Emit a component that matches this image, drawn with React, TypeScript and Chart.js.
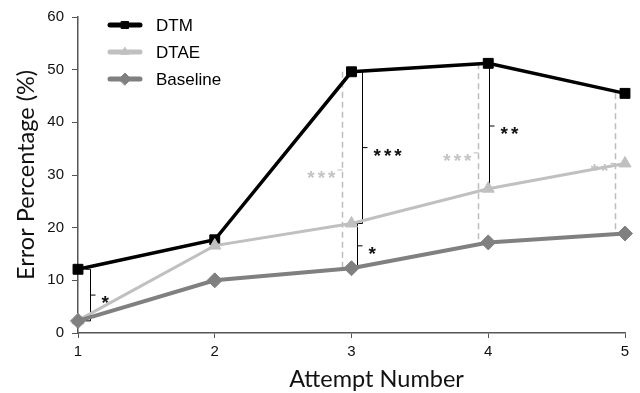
import React, { useEffect, useRef } from 'react';
import { Chart, registerables } from 'chart.js';
import { drawPoint } from 'chart.js/helpers';

Chart.register(...registerables);

// ---- data ----
const attempts = ['1', '2', '3', '4', '5'];
const seriesNames = ['DTM', 'DTAE', 'Baseline'];
const dtm = [12.1, 17.7, 49.6, 51.2, 45.5];
const dtae = [2.4, 16.6, 20.8, 27.4, 32.2];
const baseline = [2.3, 10.0, 12.3, 17.2, 18.9];
const yTickValues = [0, 10, 20, 30, 40, 50, 60];
const xTitle = 'Attempt Number';
const yTitle = 'Error Percentage (%)';

// significance annotations (gray dashed: DTM vs Baseline)
const grayAt = [2, 3, 4];
const grayLabels = ['***', '***', '**'];
// black brackets: at attempt index, between series index from/to
const bracketAt = [0, 2, 2, 3];
const bracketFrom = [0, 0, 1, 0];
const bracketTo = [2, 1, 2, 1];
const bracketLabels = ['*', '***', '*', '**'];

// ---- styling (not data) ----
const colors = ['#000000', '#c0c0c0', '#808080'];
const lineWidths = [3.5, 3, 4];
const pointStyles = ['rect', 'triangle', 'rectRot'];
const pointRadii = [7, 7, 7.5];
const legendRadii = [5, 4.5, 6];
const bracketOffsets = [12, 10, 5, 1];
const grayOffset = -10;
const starFont = 'bold 19px "Liberation Sans", Arial, sans-serif';
const titleFont = '23.5px Lato, "Open Sans", sans-serif';

const annotationPlugin = {
  id: 'sigAnnotations',
  beforeDatasetsDraw(chart: any) {
    const ctx = chart.ctx;
    const xs = chart.scales.x;
    const ys = chart.scales.y;
    const series = [dtm, dtae, baseline];
    ctx.save();
    ctx.font = starFont;
    (ctx as any).letterSpacing = '3px';
    grayAt.forEach((idx, i) => {
      const x = Math.round(xs.getPixelForValue(idx) + grayOffset) + 0.5;
      const yTop = ys.getPixelForValue(dtm[idx]);
      const yBot = ys.getPixelForValue(baseline[idx]);
      const yMid = (yTop + yBot) / 2;
      ctx.strokeStyle = '#bdbdbd';
      ctx.lineWidth = 1.5;
      ctx.setLineDash([6, 4]);
      ctx.beginPath();
      ctx.moveTo(x, yTop);
      ctx.lineTo(x, yBot);
      ctx.stroke();
      ctx.setLineDash([]);
      ctx.lineWidth = 1;
      ctx.beginPath();
      ctx.moveTo(x, yMid);
      ctx.lineTo(x - 5, yMid);
      ctx.stroke();
      ctx.fillStyle = '#c4c4c4';
      ctx.textAlign = 'right';
      ctx.textBaseline = 'alphabetic';
      ctx.fillText(grayLabels[i], x - 4, yMid + 14);
    });
    bracketAt.forEach((idx, i) => {
      const x = Math.round(xs.getPixelForValue(idx) + bracketOffsets[i]) + 0.5;
      const yTop = ys.getPixelForValue(series[bracketFrom[i]][idx]);
      const yBot = ys.getPixelForValue(series[bracketTo[i]][idx]);
      const yMid = (yTop + yBot) / 2;
      ctx.strokeStyle = '#000';
      ctx.lineWidth = 1;
      ctx.beginPath();
      ctx.moveTo(x - 5, yTop);
      ctx.lineTo(x, yTop);
      ctx.lineTo(x, yBot);
      ctx.lineTo(x - 5, yBot);
      ctx.moveTo(x, yMid);
      ctx.lineTo(x + 5, yMid);
      ctx.stroke();
      ctx.fillStyle = '#111';
      ctx.textAlign = 'left';
      ctx.textBaseline = 'alphabetic';
      ctx.fillText(bracketLabels[i], x + 11, yMid + 14);
    });
    ctx.restore();
  },
  afterDraw(chart: any) {
    const ctx = chart.ctx;
    const rows = [25, 52, 79];
    ctx.save();
    chart.data.datasets.forEach((ds: any, i: number) => {
      const y = rows[i];
      ctx.strokeStyle = ds.borderColor;
      ctx.lineWidth = 5;
      ctx.lineCap = 'round';
      ctx.beginPath();
      ctx.moveTo(110, y);
      ctx.lineTo(140, y);
      ctx.stroke();
      ctx.fillStyle = ds.pointBackgroundColor;
      ctx.strokeStyle = ds.pointBorderColor;
      ctx.lineWidth = 1;
      drawPoint(ctx, { pointStyle: ds.pointStyle, radius: legendRadii[i], rotation: 0, borderWidth: 1 }, 125, y);
      ctx.fillStyle = '#000';
      ctx.font = '17px "Liberation Sans", Arial, sans-serif';
      ctx.textAlign = 'left';
      ctx.textBaseline = 'middle';
      ctx.fillText(ds.label, 156, y + 1);
    });
    // axis title for x (drawn slightly right of centre as in the source figure)
    ctx.fillStyle = '#111';
    ctx.font = titleFont;
    ctx.textAlign = 'center';
    ctx.textBaseline = 'middle';
    const xa = chart.scales.x;
    ctx.fillText(xTitle, (xa.left + xa.right) / 2 + 25, 379);
    ctx.restore();
  },
};

export default function App() {
  const ref = useRef<HTMLCanvasElement | null>(null);
  useEffect(() => {
    if (!ref.current) return;
    const values = [dtm, dtae, baseline];
    const chart = new Chart(ref.current, {
      type: 'line',
      data: {
        labels: attempts,
        datasets: seriesNames.map((name, i) => ({
          label: name,
          data: values[i],
          borderColor: colors[i],
          backgroundColor: colors[i],
          pointBackgroundColor: colors[i],
          pointBorderColor: colors[i],
          borderWidth: lineWidths[i],
          pointStyle: pointStyles[i],
          pointRadius: pointRadii[i],
          pointBorderWidth: 1,
          tension: 0,
          clip: false,
          order: 3 - i,
        })),
      },
      options: {
        animation: false,
        responsive: false,
        layout: { padding: { top: 15, right: 15, left: 0, bottom: 0 } },
        plugins: { legend: { display: false }, tooltip: { enabled: false } },
        scales: {
          x: {
            type: 'category',
            offset: false,
            afterFit: (s: any) => { s.height = 60; },
            border: { display: true, color: '#555', width: 1.5 },
            grid: { display: true, drawOnChartArea: false, drawTicks: true, tickLength: 5, tickColor: '#555' },
            ticks: { color: '#111', font: { family: '"Liberation Sans", Arial, sans-serif', size: 15 }, padding: 5, maxRotation: 0 },
            title: { display: false, text: xTitle },
          },
          y: {
            min: 0,
            max: 60,
            afterFit: (s: any) => { s.width = 78; },
            afterBuildTicks: (s: any) => { s.ticks = yTickValues.map((v) => ({ value: v })); },
            border: { display: true, color: '#555', width: 1.5 },
            grid: { display: true, drawOnChartArea: false, drawTicks: true, tickLength: 6, tickColor: '#555' },
            ticks: { color: '#111', font: { family: '"Liberation Sans", Arial, sans-serif', size: 15 }, padding: 8 },
            title: {
              display: true,
              text: yTitle,
              color: '#111',
              font: { family: 'Lato, "Open Sans", sans-serif', size: 23.5 },
              padding: { top: 12, bottom: 0 },
            },
          },
        },
      },
      plugins: [annotationPlugin],
    });
    return () => chart.destroy();
  }, []);
  return (
    <div style={{ position: 'absolute', left: 0, top: 0, width: 640, height: 393 }}>
      <canvas ref={ref} width={640} height={393} />
    </div>
  );
}
